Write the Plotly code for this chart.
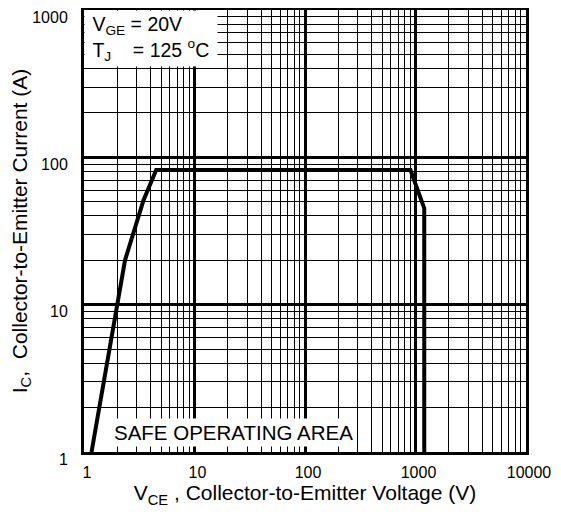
import plotly.graph_objects as go

# Safe operating area boundary (V_CE in V, I_C in A)
vce = [1.17, 2.35, 3.45, 4.5, 900, 1200, 1200]
ic = [1, 20, 51, 82, 82, 45, 1]

x_ticks = [1, 10, 100, 1000, 10000]
x_tick_text = ["1", "10", "100", "1000", "10000"]
y_ticks = [1, 10, 100, 1000]
y_tick_text = ["1", "10", "100", "1000"]

x_minor = [m * 10 ** d for d in range(0, 4) for m in range(2, 10)]
y_minor = [m * 10 ** d for d in range(0, 3) for m in range(2, 10)]

FONT = "Arial, 'Liberation Sans', sans-serif"

fig = go.Figure()
fig.add_trace(go.Scatter(x=vce, y=ic, mode="lines",
                         line=dict(color="black", width=4),
                         hoverinfo="skip", showlegend=False))

axis_common = dict(
    type="log", automargin=False,
    showgrid=True, gridcolor="black", gridwidth=3,
    showline=True, linecolor="black", linewidth=3, mirror=True,
    ticks="", ticklen=0, zeroline=False, ticklabeloverflow="allow",
    tickfont=dict(family=FONT, size=16, color="black"),
)

fig.update_xaxes(
    **axis_common,
    range=[0, 4],
    tickvals=x_ticks, ticktext=x_tick_text,
    ticklabelstandoff=4, ticklabelshift=3,
    minor=dict(tickvals=x_minor, showgrid=True, gridcolor="black", gridwidth=1.2, ticks=""),
    title=dict(text="V<sub>CE</sub> , Collector-to-Emitter Voltage (V)",
               font=dict(family=FONT, size=21, color="black"), standoff=2),
)
fig.update_yaxes(
    **axis_common,
    range=[0, 3],
    tickvals=y_ticks, ticktext=y_tick_text,
    ticklabelstandoff=10, ticklabelshift=7,
    minor=dict(tickvals=y_minor, showgrid=True, gridcolor="black", gridwidth=1.2, ticks=""),
    title=dict(text="I<sub>C</sub>,  Collector-to-Emitter Current (A)",
               font=dict(family=FONT, size=21, color="black"), standoff=3),
)

fig.add_annotation(
    xref="paper", yref="paper", x=0, y=1, xanchor="left", yanchor="top",
    text="\u00a0V<sub>GE</sub> = 20V<br>\u00a0T<sub>J</sub>\u00a0\u00a0\u00a0 = 125 <sup>o</sup>C",
    showarrow=False, align="left", valign="middle", bgcolor="white",
    width=128, height=51, borderpad=2,
    font=dict(family=FONT, size=19.5, color="black"),
)
fig.add_annotation(
    xref="paper", yref="paper", x=0.338, y=0.043, xanchor="center", yanchor="middle",
    text="SAFE OPERATING AREA",
    showarrow=False, bgcolor="white", borderpad=2,
    font=dict(family=FONT, size=20.5, color="black"),
)

# the page body adds an 8px offset, so the figure is sized to the visible area
fig.update_layout(
    width=553, height=509,
    margin=dict(l=76, r=35, t=2, b=65),
    paper_bgcolor="white", plot_bgcolor="white",
    font=dict(family=FONT, color="black"),
)

fig.write_html("out.html")
